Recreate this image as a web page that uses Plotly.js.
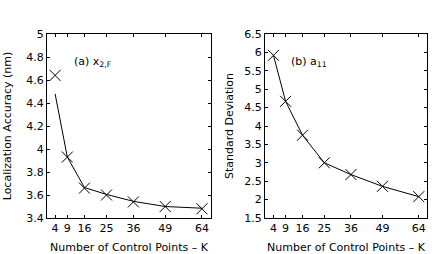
<!DOCTYPE html>
<html><head><meta charset="utf-8">
<script src="https://cdn.plot.ly/plotly-3.0.1.min.js"></script>
<style>html,body{margin:0;padding:0;background:#fff}#c{width:436px;height:254px}</style>
</head><body><div id="c"></div>
<script>
const K = [4, 9, 16, 25, 36, 49, 64];
const accMarkers = [4.64, 3.93, 3.66, 3.60, 3.54, 3.50, 3.48];
const accLine = [4.48, 3.93, 3.665, 3.605, 3.545, 3.50, 3.485];
const stdDev = [5.92, 4.67, 3.75, 3.00, 2.68, 2.36, 2.08];
const xTicks = [4, 9, 16, 25, 36, 49, 64];
const yTicksA = [3.4, 3.6, 3.8, 4, 4.2, 4.4, 4.6, 4.8, 5];
const yTicksB = [1.5, 2, 2.5, 3, 3.5, 4, 4.5, 5, 5.5, 6, 6.5];

const font = {family: 'DejaVu Sans, sans-serif', size: 11, color: '#000'};
const tfont = {family: 'DejaVu Sans, sans-serif', size: 11, color: '#000'};
const mk = {symbol: 'x-thin-open', size: 11, color: '#000', line: {width: 1, color: '#000'}};

const traces = [
  {x: K, y: accLine, xaxis: 'x', yaxis: 'y', mode: 'lines', line: {color: '#000', width: 1}},
  {x: K, y: accMarkers, xaxis: 'x', yaxis: 'y', mode: 'markers', marker: mk},
  {x: K, y: stdDev, xaxis: 'x2', yaxis: 'y2', mode: 'lines+markers', line: {color: '#000', width: 1}, marker: mk}
];

const axBase = {showline: true, mirror: 'ticks', linecolor: '#000', linewidth: 1, ticks: 'inside', ticklen: 3, tickcolor: '#000', showgrid: false, zeroline: false, tickfont: font};
const ydom = [1 - 218/254, 1 - 34/254];

const layout = {
  width: 436, height: 254, margin: {l: 0, r: 0, t: 0, b: 0},
  paper_bgcolor: '#fff', plot_bgcolor: '#fff', showlegend: false, font: font,
  xaxis: Object.assign({}, axBase, {domain: [47/436, 211/436], range: [0.7, 67.7], tickvals: xTicks, ticktext: xTicks.map(String), anchor: 'y',
    title: {text: 'Number of Control Points \u2013 K', font: tfont, standoff: 9}}),
  yaxis: Object.assign({}, axBase, {domain: ydom, range: [3.4, 5], tickvals: yTicksA, ticktext: yTicksA.map(String), anchor: 'x',
    title: {text: 'Localization Accuracy (nm)', font: tfont, standoff: 12}}),
  xaxis2: Object.assign({}, axBase, {domain: [265/436, 427/436], range: [0.5, 67.4], tickvals: xTicks, ticktext: xTicks.map(String), anchor: 'y2',
    title: {text: 'Number of Control Points \u2013 K', font: tfont, standoff: 9}}),
  yaxis2: Object.assign({}, axBase, {domain: ydom, range: [1.5, 6.5], tickvals: yTicksB, ticktext: yTicksB.map(String), anchor: 'x2',
    title: {text: 'Standard Deviation', font: tfont, standoff: 8}}),
  annotations: [
    {xref: 'paper', yref: 'paper', x: 72/436, y: 1 - 62/254, xanchor: 'left', yanchor: 'middle', showarrow: false, text: '(a) x<sub>2,F</sub>', font: font},
    {xref: 'paper', yref: 'paper', x: 289/436, y: 1 - 62/254, xanchor: 'left', yanchor: 'middle', showarrow: false, text: '(b) a<sub>11</sub>', font: font}
  ]
};
Plotly.newPlot('c', traces, layout, {staticPlot: true, displayModeBar: false});
</script></body></html>
